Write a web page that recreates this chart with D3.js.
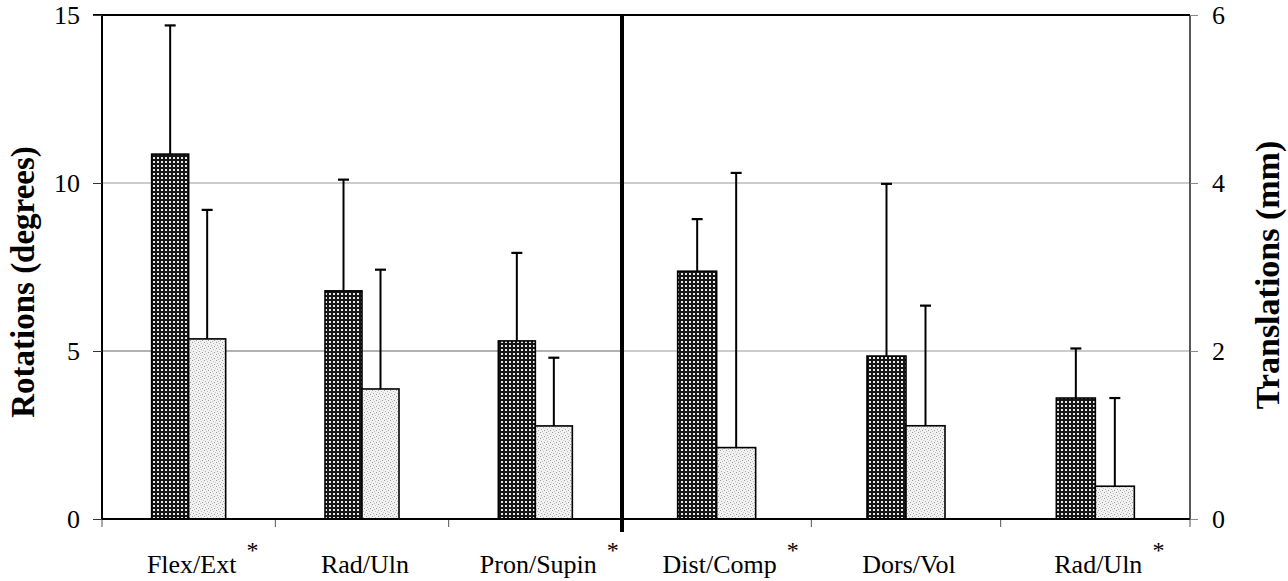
<!DOCTYPE html>
<html>
<head>
<meta charset="utf-8">
<script src="https://cdn.jsdelivr.net/npm/d3@7"></script>
<style>
  html, body { margin: 0; padding: 0; background: #fff; }
  svg { display: block; }
  text { font-family: "Liberation Serif", "Times New Roman", serif; fill: #000; }
</style>
</head>
<body>
<svg id="chart" width="1288" height="581"></svg>
<script>
// ---- data ----
const rotCategories = ["Flex/Ext", "Rad/Uln", "Pron/Supin"];
const rotStarred = [true, false, true];
const rotMeanA = [10.86, 6.79, 5.30];
const rotSdA = [3.83, 3.31, 2.62];
const rotMeanB = [5.36, 3.87, 2.77];
const rotSdB = [3.84, 3.55, 2.03];

const trCategories = ["Dist/Comp", "Dors/Vol", "Rad/Uln"];
const trStarred = [true, false, true];
const trMeanA = [2.95, 1.94, 1.44];
const trSdA = [0.62, 2.05, 0.59];
const trMeanB = [0.85, 1.11, 0.39];
const trSdB = [3.27, 1.43, 1.05];

const rotTicks = [0, 5, 10, 15];
const rotGrid = [5, 10];
const trTicks = [0, 2, 4, 6];
const trGrid = [2, 4];

// ---- layout ----
const svg = d3.select("#chart");
const pLeft = 102, pMid = 622, pRight = 1190, pTop = 15, pBottom = 519;

const yRot = d3.scaleLinear().domain([0, 15]).range([pBottom, pTop]);
const yTr = d3.scaleLinear().domain([0, 6]).range([pBottom, pTop]);
const xRot = d3.scaleBand().domain(rotCategories.map((d, i) => i)).range([pLeft, pMid]).padding(0);
const xTr = d3.scaleBand().domain(trCategories.map((d, i) => i)).range([pMid, pRight]).padding(0);

// patterns
const defs = svg.append("defs");
const pd = defs.append("pattern").attr("id", "darkPat").attr("patternUnits", "userSpaceOnUse")
  .attr("width", 4).attr("height", 4);
pd.append("rect").attr("width", 4).attr("height", 4).attr("fill", "#151515");
pd.append("rect").attr("x", 1).attr("y", 1).attr("width", 2).attr("height", 2).attr("fill", "#e8e8e8");

const pl = defs.append("pattern").attr("id", "lightPat").attr("patternUnits", "userSpaceOnUse")
  .attr("width", 6).attr("height", 6);
pl.append("rect").attr("width", 6).attr("height", 6).attr("fill", "#f2f2f2");
[[0,0,"#999"],[3,1,"#bbb"],[1,3,"#aaa"],[4,4,"#999"],[5,2,"#ccc"],[2,5,"#bbb"]].forEach(p => {
  pl.append("rect").attr("x", p[0]).attr("y", p[1]).attr("width", 1).attr("height", 1).attr("fill", p[2]);
});

// gridlines
svg.append("g").selectAll("line").data(rotGrid).join("line")
  .attr("x1", pLeft).attr("x2", pMid)
  .attr("y1", d => yRot(d)).attr("y2", d => yRot(d))
  .attr("stroke", (d) => d === 5 ? "#666" : "#999").attr("stroke-width", 1.2);
svg.append("g").selectAll("line").data(trGrid).join("line")
  .attr("x1", pMid).attr("x2", pRight)
  .attr("y1", d => yTr(d)).attr("y2", d => yTr(d))
  .attr("stroke", "#999").attr("stroke-width", 1.2);

// bars
function drawPanel(cats, x, y, meanA, sdA, meanB, sdB, bw, starred) {
  const sub = d3.scaleBand().domain(["A", "B"]).range([-bw, bw]).padding(0);
  const rows = [];
  cats.forEach((c, i) => {
    rows.push({ i, k: "A", m: meanA[i], s: sdA[i] });
    rows.push({ i, k: "B", m: meanB[i], s: sdB[i] });
  });
  const g = svg.append("g");
  // error bars (upper only)
  rows.forEach(r => {
    const cx = x(r.i) + x.bandwidth() / 2 + sub(r.k) + sub.bandwidth() / 2;
    g.append("line").attr("x1", cx).attr("x2", cx)
      .attr("y1", y(r.m)).attr("y2", y(r.m + r.s))
      .attr("stroke", "#000").attr("stroke-width", 2);
    g.append("line").attr("x1", cx - 5.5).attr("x2", cx + 5.5)
      .attr("y1", y(r.m + r.s)).attr("y2", y(r.m + r.s))
      .attr("stroke", "#000").attr("stroke-width", 2.2);
  });
  g.selectAll("rect.bar").data(rows).join("rect")
    .attr("class", "bar")
    .attr("x", r => x(r.i) + x.bandwidth() / 2 + sub(r.k))
    .attr("width", sub.bandwidth())
    .attr("y", r => y(r.m))
    .attr("height", r => y(0) - y(r.m))
    .attr("fill", r => r.k === "A" ? "url(#darkPat)" : "url(#lightPat)")
    .attr("stroke", "#000").attr("stroke-width", 1.6);

  // category labels
  cats.forEach((c, i) => {
    const cx = x(i) + x.bandwidth() / 2 + 3;
    const t = svg.append("text").attr("x", cx).attr("y", 573)
      .attr("text-anchor", "middle").style("font-size", "26px").text(c);
    if (starred[i]) {
      const w = t.node().getComputedTextLength();
      svg.append("text").attr("x", cx + w / 2 + 10).attr("y", 558)
        .style("font-size", "24px").text("*");
    }
  });
  // category ticks
  const tickX = d3.range(cats.length + 1).map(j => j < cats.length ? x(j) : x.range()[1]);
  svg.append("g").selectAll("line").data(tickX).join("line")
    .attr("x1", d => d).attr("x2", d => d).attr("y1", pBottom).attr("y2", pBottom + 8)
    .attr("stroke", "#555").attr("stroke-width", 1);
}
drawPanel(rotCategories, xRot, yRot, rotMeanA, rotSdA, rotMeanB, rotSdB, 37, rotStarred);
drawPanel(trCategories, xTr, yTr, trMeanA, trSdA, trMeanB, trSdB, 39, trStarred);

// frame
svg.append("line").attr("x1", pLeft - 9).attr("x2", pRight).attr("y1", pTop).attr("y2", pTop)
  .attr("stroke", "#000").attr("stroke-width", 2);
svg.append("line").attr("x1", pLeft).attr("x2", pRight).attr("y1", pBottom).attr("y2", pBottom)
  .attr("stroke", "#000").attr("stroke-width", 2.2);
svg.append("line").attr("x1", pLeft).attr("x2", pLeft).attr("y1", pTop).attr("y2", pBottom)
  .attr("stroke", "#000").attr("stroke-width", 2);
svg.append("line").attr("x1", pRight).attr("x2", pRight).attr("y1", pTop).attr("y2", pBottom)
  .attr("stroke", "#222").attr("stroke-width", 1.5);
svg.append("line").attr("x1", pMid).attr("x2", pMid).attr("y1", pTop).attr("y2", pBottom + 13)
  .attr("stroke", "#000").attr("stroke-width", 4);

// left axis
const la = svg.append("g").attr("transform", `translate(${pLeft},0)`)
  .call(d3.axisLeft(yRot).tickValues(rotTicks).tickSize(9).tickPadding(13).tickFormat(d3.format("d")));
la.select(".domain").remove();
la.selectAll("line").attr("stroke", "#333");
la.selectAll("text").style("font-size", "26px").style("font-family", "Liberation Serif");

// right axis
const ra = svg.append("g").attr("transform", `translate(${pRight},0)`)
  .call(d3.axisRight(yTr).tickValues(trTicks).tickSize(8).tickPadding(14).tickFormat(d3.format("d")));
ra.select(".domain").remove();
ra.selectAll("line").attr("stroke", "#888");
ra.selectAll("text").style("font-size", "26px").style("font-family", "Liberation Serif");

// axis titles
svg.append("text").attr("transform", "translate(34,282) rotate(-90)")
  .attr("text-anchor", "middle").style("font-size", "33px").style("font-weight", "bold")
  .text("Rotations (degrees)");
svg.append("text").attr("transform", "translate(1279,275) rotate(-90)")
  .attr("text-anchor", "middle").style("font-size", "34px").style("font-weight", "bold")
  .text("Translations (mm)");
</script>
</body>
</html>
